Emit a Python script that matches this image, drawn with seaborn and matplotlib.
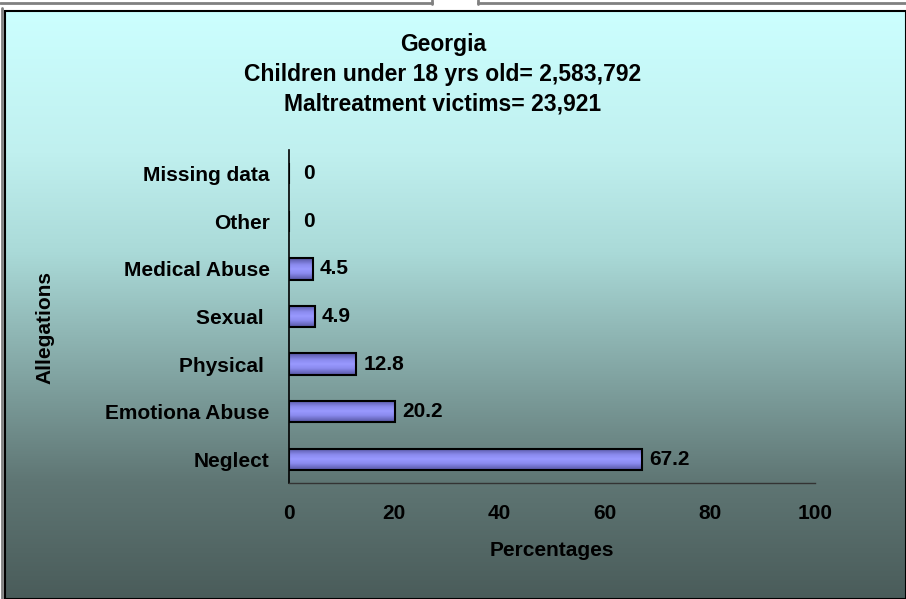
import numpy as np
import pandas as pd
import matplotlib
matplotlib.use("Agg")
import matplotlib.pyplot as plt
from matplotlib.colors import LinearSegmentedColormap
from matplotlib.lines import Line2D
from matplotlib.patches import Rectangle
import seaborn as sns

# data
allegations = ['Missing data', 'Other', 'Medical Abuse', 'Sexual ', 'Physical ',
               'Emotiona Abuse', 'Neglect']
percentages = [0, 0, 4.5, 4.9, 12.8, 20.2, 67.2]
value_labels = ['0', '0', '4.5', '4.9', '12.8', '20.2', '67.2']
x_ticks = [0, 20, 40, 60, 80, 100]

df = pd.DataFrame({'Allegation': allegations, 'Percent': percentages})

sns.set_theme(style="white")
plt.rcParams['font.family'] = ['Liberation Sans', 'DejaVu Sans']
plt.rcParams['font.weight'] = 'bold'
plt.rcParams['text.color'] = 'black'
plt.rcParams['axes.labelcolor'] = 'black'
plt.rcParams['xtick.color'] = 'black'
plt.rcParams['ytick.color'] = 'black'

FS = 15

fig = plt.figure(figsize=(9.06, 5.99), dpi=100)
fig.patch.set_facecolor('white')
W, H = 906, 599

# gradient background of the chart area
bg_ax = fig.add_axes([5 / W, 0, 1 - 5 / W, (H - 11) / H])
bg_cmap = LinearSegmentedColormap.from_list(
    'bg', [(0.0, '#CCFFFF'), (0.24, '#C0F0EF'), (0.41, '#AADAD8'),
           (0.80, '#5F7674'), (1.0, '#4A5C5A')])
grad = np.linspace(0, 1, 256).reshape(-1, 1)
bg_ax.imshow(grad, aspect='auto', cmap=bg_cmap, extent=[0, 1, 1, 0])
bg_ax.set_axis_off()
bg_ax.add_patch(Rectangle((0, 0), 1, 1, transform=bg_ax.transAxes, fill=False,
                          edgecolor='black', linewidth=1.5, clip_on=False))

# strip at the very top
for seg in [([0, 432 / W], [1 - 3 / H, 1 - 3 / H]),
            ([478 / W, 1], [1 - 3 / H, 1 - 3 / H]),
            ([432 / W, 432 / W], [1 - 4 / H, 1]),
            ([478 / W, 478 / W], [1 - 4 / H, 1]),
            ([2 / W, 2 / W], [0, 1 - 8 / H])]:
    fig.add_artist(Line2D(seg[0], seg[1], color='#808080', linewidth=2))

ax = fig.add_axes([289 / W, 1 - 483 / H, (815 - 289) / W, (483 - 150) / H])
ax.patch.set_alpha(0)

sns.barplot(data=df, x='Percent', y='Allegation', order=allegations,
            orient='h', color='#9999FF', edgecolor='black', linewidth=1.5,
            width=0.45, saturation=1, ax=ax)

# shading inside the bars
bar_cmap = LinearSegmentedColormap.from_list(
    'bar', [(0.0, '#5555A0'), (0.3, '#8A8AEE'), (0.5, '#9999FF'),
            (0.7, '#8A8AEE'), (1.0, '#5555A0')])
for p in ax.patches:
    x0, y0 = p.get_x(), p.get_y()
    w, h = p.get_width(), p.get_height()
    if w <= 0:
        continue
    im = ax.imshow(grad, aspect='auto', cmap=bar_cmap,
                   extent=[x0, x0 + w, y0 + h, y0], zorder=p.get_zorder() - 0.1)
    im.set_clip_path(p)
    p.set_facecolor('none')

ax.set_xlim(0, 100)
ax.set_ylim(6.5, -0.5)
ax.set_xticks(x_ticks)
ax.set_xticklabels([str(t) for t in x_ticks], fontsize=FS, fontweight='bold')
for lab in ax.get_yticklabels():
    lab.set_fontsize(FS)
    lab.set_fontweight('bold')
ax.tick_params(axis='x', length=5, width=1, color='#333333', pad=10, direction='out')
ax.tick_params(axis='y', length=0, pad=14)

for s in ['top', 'right']:
    ax.spines[s].set_visible(False)
ax.spines['left'].set_color('black')
ax.spines['left'].set_linewidth(1.2)
ax.spines['bottom'].set_color('#333333')
ax.spines['bottom'].set_linewidth(1)

for i, (v, t) in enumerate(zip(percentages, value_labels)):
    ax.annotate(t, (v, i), xytext=(5 if v > 0 else 10, 0), textcoords='offset points',
                ha='left', va='center', fontsize=FS, fontweight='bold')

ax.set_xlabel('Percentages', fontsize=FS, fontweight='bold', labelpad=13)
ax.set_ylabel('')
fig.text(45 / W, 1 - 327 / H, 'Allegations', rotation=90, ha='center', va='center',
         fontsize=FS, fontweight='bold')

fig.text(443 / W, 1 - 45 / H, 'Georgia', ha='center', va='center',
         fontsize=16.5, fontweight='bold')
fig.text(443 / W, 1 - 75 / H, 'Children under 18 yrs old= 2,583,792', ha='center',
         va='center', fontsize=16.5, fontweight='bold')
fig.text(443 / W, 1 - 104 / H, 'Maltreatment victims= 23,921', ha='center',
         va='center', fontsize=16.5, fontweight='bold')

fig.savefig('out.png', dpi=100)
